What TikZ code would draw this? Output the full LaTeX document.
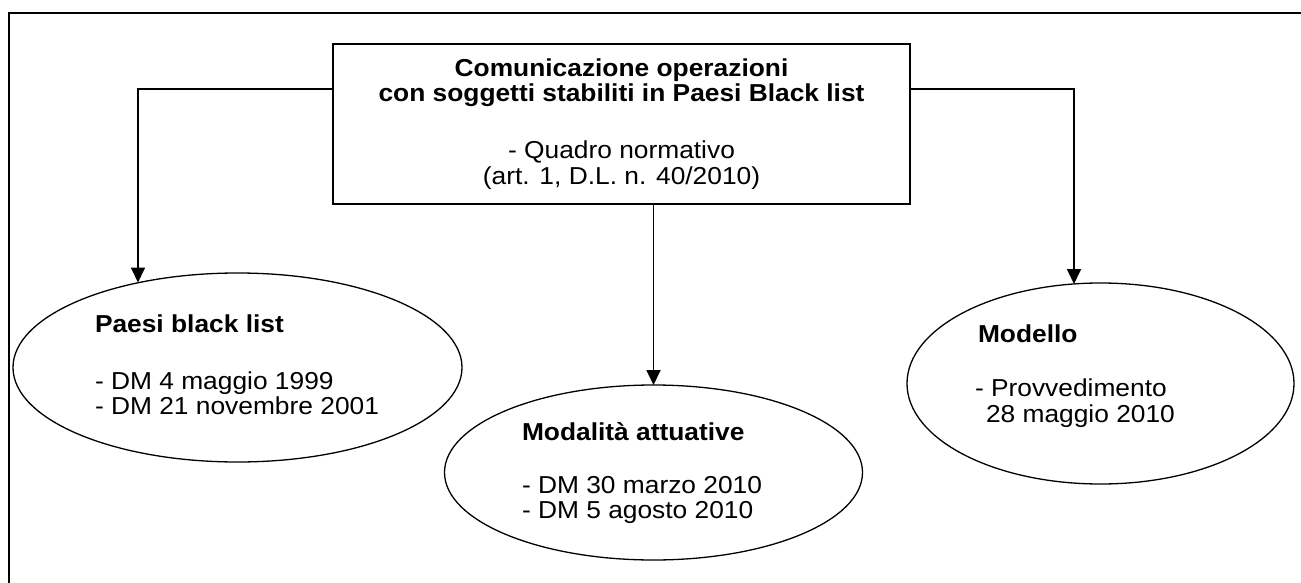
\documentclass[tikz,border=0pt]{standalone}
\usepackage{fontspec}
\setmainfont{Liberation Sans}[FakeStretch=1.075]
\usetikzlibrary{arrows.meta,shapes.geometric}
\tikzset{
  txt/.style={inner sep=0pt, outer sep=0pt, font=\fontsize{24.5}{25}\selectfont},
  hd/.style={txt, font=\fontsize{24.5}{25}\selectfont\bfseries},
  bubble/.style={draw, line width=1.3pt, ellipse, inner sep=0pt, outer sep=0pt},
  conn/.style={draw, line width=1.8pt, -{Triangle[length=15pt,width=14pt]}},
}
\begin{document}
\begin{tikzpicture}[x=1pt,y=-1pt]
\useasboundingbox (0,0) rectangle (1301,583);
% outer frame (open to right and bottom)
\draw[line width=1.7pt] (9.2,590) -- (9.2,13.3) -- (1310,13.3);
% main box
\node[draw, line width=1.4pt, rectangle, minimum width=577pt, minimum height=160pt, inner sep=0pt, outer sep=0pt] (box) at (621.5,124) {};
\node[hd, anchor=base] (b1) at (621.5,77) {Comunicazione operazioni};
\node[hd, anchor=base] (b2) at (621.5,102) {con soggetti stabiliti in Paesi Black list};
\node[txt, anchor=base] (b3) at (621.5,159) {- Quadro normativo};
\node[txt, anchor=base] (b4) at (621.5,184) {(art. 1, D.L. n. 40/2010)};
% ellipses
\node[bubble, minimum width=449pt, minimum height=189pt] (left) at (237.5,367.5) {};
\node[bubble, minimum width=418pt, minimum height=175pt] (mid) at (653.5,472.5) {};
\node[bubble, minimum width=387pt, minimum height=201pt] (right) at (1100.5,383.5) {};
% ellipse texts
\node[hd, anchor=base west] (l1) at (95,332) {Paesi black list};
\node[txt, anchor=base west] (l2) at (95,389) {- DM 4 maggio 1999};
\node[txt, anchor=base west] (l3) at (95,414) {- DM 21 novembre 2001};
\node[hd, anchor=base west] (m1) at (522,440) {Modalità attuative};
\node[txt, anchor=base west] (m2) at (522,493) {- DM 30 marzo 2010};
\node[txt, anchor=base west] (m3) at (522,518) {- DM 5 agosto 2010};
\node[hd, anchor=base west] (r1) at (978,342) {Modello};
\node[txt, anchor=base west] (r2) at (975,396) {- Provvedimento};
\node[txt, anchor=base west] (r3) at (986,422) {28 maggio 2010};
% connectors
\coordinate (lt) at (138,282.5);
\coordinate (rt) at (1074,284);
\draw[conn] (box.west |- 0,89) -| (lt);
\draw[conn] (box.south -| mid.north) -- (mid.north);
\draw[conn] (box.east |- 0,89) -| (rt);
\end{tikzpicture}
\end{document}
